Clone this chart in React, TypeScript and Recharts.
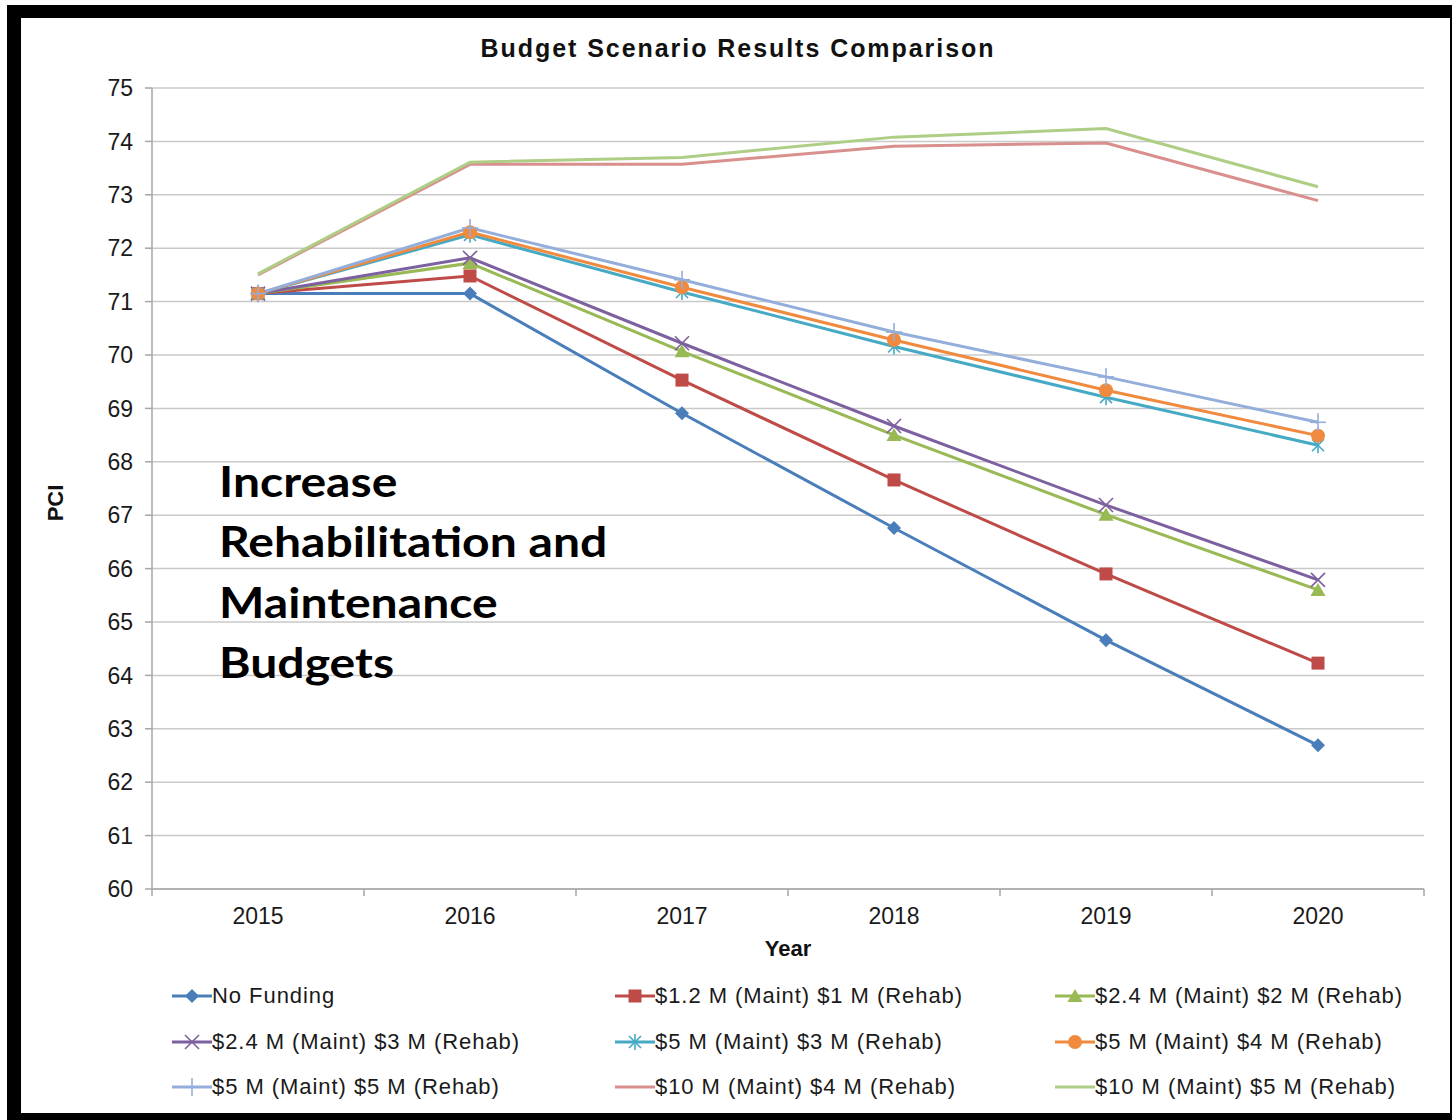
import React from 'react';
import { LineChart, Line, XAxis, YAxis, CartesianGrid } from 'recharts';

const years = ['2015', '2016', '2017', '2018', '2019', '2020'];
const yTicks = [60, 61, 62, 63, 64, 65, 66, 67, 68, 69, 70, 71, 72, 73, 74, 75];

const noFunding = [71.15, 71.15, 68.91, 66.76, 64.66, 62.69];
const m12r1 = [71.15, 71.48, 69.53, 67.66, 65.9, 64.23];
const m24r2 = [71.15, 71.72, 70.07, 68.5, 67.01, 65.6];
const m24r3 = [71.15, 71.82, 70.22, 68.67, 67.19, 65.79];
const m5r3 = [71.15, 72.25, 71.18, 70.16, 69.21, 68.31];
const m5r4 = [71.15, 72.3, 71.27, 70.28, 69.34, 68.49];
const m5r5 = [71.15, 72.38, 71.41, 70.43, 69.59, 68.74];
const m10r4 = [71.5, 73.57, 73.57, 73.91, 73.97, 72.89];
const m10r5 = [71.52, 73.61, 73.7, 74.08, 74.24, 73.15];

const series = [
    { key: 'nf', name: 'No Funding', values: noFunding, color: '#4A7EBB', marker: 'diamond' },
    { key: 'a', name: '$1.2 M (Maint) $1 M (Rehab)', values: m12r1, color: '#BE4B48', marker: 'square' },
    { key: 'b', name: '$2.4 M (Maint) $2 M (Rehab)', values: m24r2, color: '#98B954', marker: 'triangle' },
    { key: 'c', name: '$2.4 M (Maint) $3 M (Rehab)', values: m24r3, color: '#7D60A0', marker: 'x' },
    { key: 'd', name: '$5 M (Maint) $3 M (Rehab)', values: m5r3, color: '#46AAC5', marker: 'star' },
    { key: 'e', name: '$5 M (Maint) $4 M (Rehab)', values: m5r4, color: '#F08A3E', marker: 'circle' },
    { key: 'f', name: '$5 M (Maint) $5 M (Rehab)', values: m5r5, color: '#94AEDB', marker: 'plus' },
    { key: 'g', name: '$10 M (Maint) $4 M (Rehab)', values: m10r4, color: '#D98F8D', marker: 'none' },
    { key: 'h', name: '$10 M (Maint) $5 M (Rehab)', values: m10r5, color: '#AECD85', marker: 'none' },
];

const data = years.map((year, i) => {
    const row: Record<string, string | number> = { year };
    series.forEach(s => { row[s.key] = s.values[i]; });
    return row;
});

const FONT = 'Arial, "Liberation Sans", sans-serif';

const Marker = ({ type, cx, cy, color }: { type: string; cx: number; cy: number; color: string }) => {
    switch (type) {
        case 'diamond':
            return <polygon points={`${cx},${cy - 7} ${cx + 7},${cy} ${cx},${cy + 7} ${cx - 7},${cy}`} fill={color} />;
        case 'square':
            return <rect x={cx - 6.5} y={cy - 6.5} width={13} height={13} fill={color} />;
        case 'triangle':
            return <polygon points={`${cx},${cy - 7} ${cx + 7.5},${cy + 6} ${cx - 7.5},${cy + 6}`} fill={color} />;
        case 'x':
            return (
                <g stroke={color} strokeWidth={1.6}>
                    <line x1={cx - 7} y1={cy - 7} x2={cx + 7} y2={cy + 7} />
                    <line x1={cx - 7} y1={cy + 7} x2={cx + 7} y2={cy - 7} />
                </g>
            );
        case 'star':
            return (
                <g stroke={color} strokeWidth={1.6}>
                    <line x1={cx - 6} y1={cy - 6} x2={cx + 6} y2={cy + 6} />
                    <line x1={cx - 6} y1={cy + 6} x2={cx + 6} y2={cy - 6} />
                    <line x1={cx} y1={cy - 8} x2={cx} y2={cy + 8} />
                </g>
            );
        case 'circle':
            return <circle cx={cx} cy={cy} r={7} fill={color} />;
        case 'plus':
            return (
                <g stroke={color} strokeWidth={1.6}>
                    <line x1={cx - 8} y1={cy} x2={cx + 8} y2={cy} />
                    <line x1={cx} y1={cy - 9} x2={cx} y2={cy + 9} />
                </g>
            );
        default:
            return null;
    }
};

const dotFor = (type: string, color: string) => (props: any) => {
    if (type === 'none' || props.cx == null) return <g key={props.key ?? props.index} />;
    return (
        <g key={`${type}-${props.index}`}>
            <Marker type={type} cx={props.cx} cy={props.cy} color={color} />
        </g>
    );
};

// category ticks sit in the middle of each band, tick marks at the band edges
const HALF_BAND = 106;
const YearTick = (props: any) => {
    const { x, y, payload, index } = props;
    return (
        <g>
            <line x1={x - HALF_BAND} x2={x - HALF_BAND} y1={y} y2={y + 7} stroke="#a6a6a6" strokeWidth={1.5} />
            {index === years.length - 1 && (
                <line x1={x + HALF_BAND} x2={x + HALF_BAND} y1={y} y2={y + 7} stroke="#a6a6a6" strokeWidth={1.5} />
            )}
            <text x={x} y={y + 35} textAnchor="middle" fontSize={23} fill="#1a1a1a" fontFamily={FONT}>
                {payload.value}
            </text>
        </g>
    );
};

const legendCols = [172, 615, 1055];
const legendRows = [996, 1042, 1087];

const annotation = ['Increase', 'Rehabilitation and', 'Maintenance', 'Budgets'];

export default function App() {
    return (
        <div style={{ position: 'absolute', left: 0, top: 0, width: 1455, height: 1120, background: '#fff', overflow: 'hidden', fontFamily: FONT }}>
            <LineChart
                width={1455}
                height={1120}
                data={data}
                margin={{ top: 88, right: 31, bottom: 171, left: 82 }}
                style={{ position: 'absolute', left: 0, top: 0 }}
            >
                <CartesianGrid vertical={false} stroke="#c9c9c9" strokeWidth={1.5} />
                <XAxis
                    dataKey="year"
                    height={60}
                    padding={{ left: HALF_BAND, right: HALF_BAND }}
                    stroke="#a6a6a6"
                    strokeWidth={1.5}
                    tickLine={false}
                    tickSize={0}
                    tickMargin={0}
                    tick={<YearTick />}
                    interval={0}
                />
                <YAxis
                    width={70}
                    domain={[60, 75]}
                    ticks={yTicks}
                    interval={0}
                    stroke="#a6a6a6"
                    strokeWidth={1.5}
                    tickSize={7}
                    tickMargin={12}
                    tick={{ fontSize: 23, fill: '#1a1a1a', fontFamily: FONT }}
                />
                {series.map(s => (
                    <Line
                        key={s.key}
                        dataKey={s.key}
                        name={s.name}
                        stroke={s.color}
                        strokeWidth={3}
                        dot={dotFor(s.marker, s.color)}
                        activeDot={false}
                        isAnimationActive={false}
                    />
                ))}
            </LineChart>

            {/* frame */}
            <div style={{
                position: 'absolute', left: 7, top: 5, width: 1445, height: 1115, boxSizing: 'border-box',
                borderStyle: 'solid', borderColor: '#000', borderWidth: '13px 2px 7px 14px', pointerEvents: 'none',
            }} />

            <div style={{ position: 'absolute', left: 0, width: 1476, top: 34, textAlign: 'center', fontWeight: 'bold', fontSize: 25, letterSpacing: 1.95, color: '#111' }}>
                Budget Scenario Results Comparison
            </div>
            <div style={{ position: 'absolute', left: 738, width: 100, top: 936, textAlign: 'center', fontWeight: 'bold', fontSize: 22, color: '#111' }}>
                Year
            </div>
            <div style={{ position: 'absolute', left: 56, top: 503, transform: 'translate(-50%, -50%) rotate(-90deg)', fontWeight: 'bold', fontSize: 22, color: '#111' }}>
                PCI
            </div>

            {annotation.map((line, i) => (
                <div key={line} style={{
                    position: 'absolute', left: 219, top: 481 + i * 60.3, transform: 'translateY(-50%) scaleX(1.145)', transformOrigin: 'left center',
                    fontFamily: 'Lato, "Open Sans", sans-serif', fontWeight: 'bold', fontSize: 42, color: '#000', whiteSpace: 'nowrap',
                }}>
                    {line}
                </div>
            ))}

            {series.map((s, i) => {
                const left = legendCols[i % 3];
                const top = legendRows[Math.floor(i / 3)];
                return (
                    <div key={s.key} style={{ position: 'absolute', left, top: top - 15, height: 30, display: 'flex', alignItems: 'center', whiteSpace: 'nowrap' }}>
                        <svg width={40} height={30}>
                            <line x1={0} x2={40} y1={15} y2={15} stroke={s.color} strokeWidth={3} />
                            <Marker type={s.marker} cx={20} cy={15} color={s.color} />
                        </svg>
                        <span style={{ fontSize: 22, letterSpacing: 0.95, color: '#1a1a1a' }}>{s.name}</span>
                    </div>
                );
            })}
        </div>
    );
}
